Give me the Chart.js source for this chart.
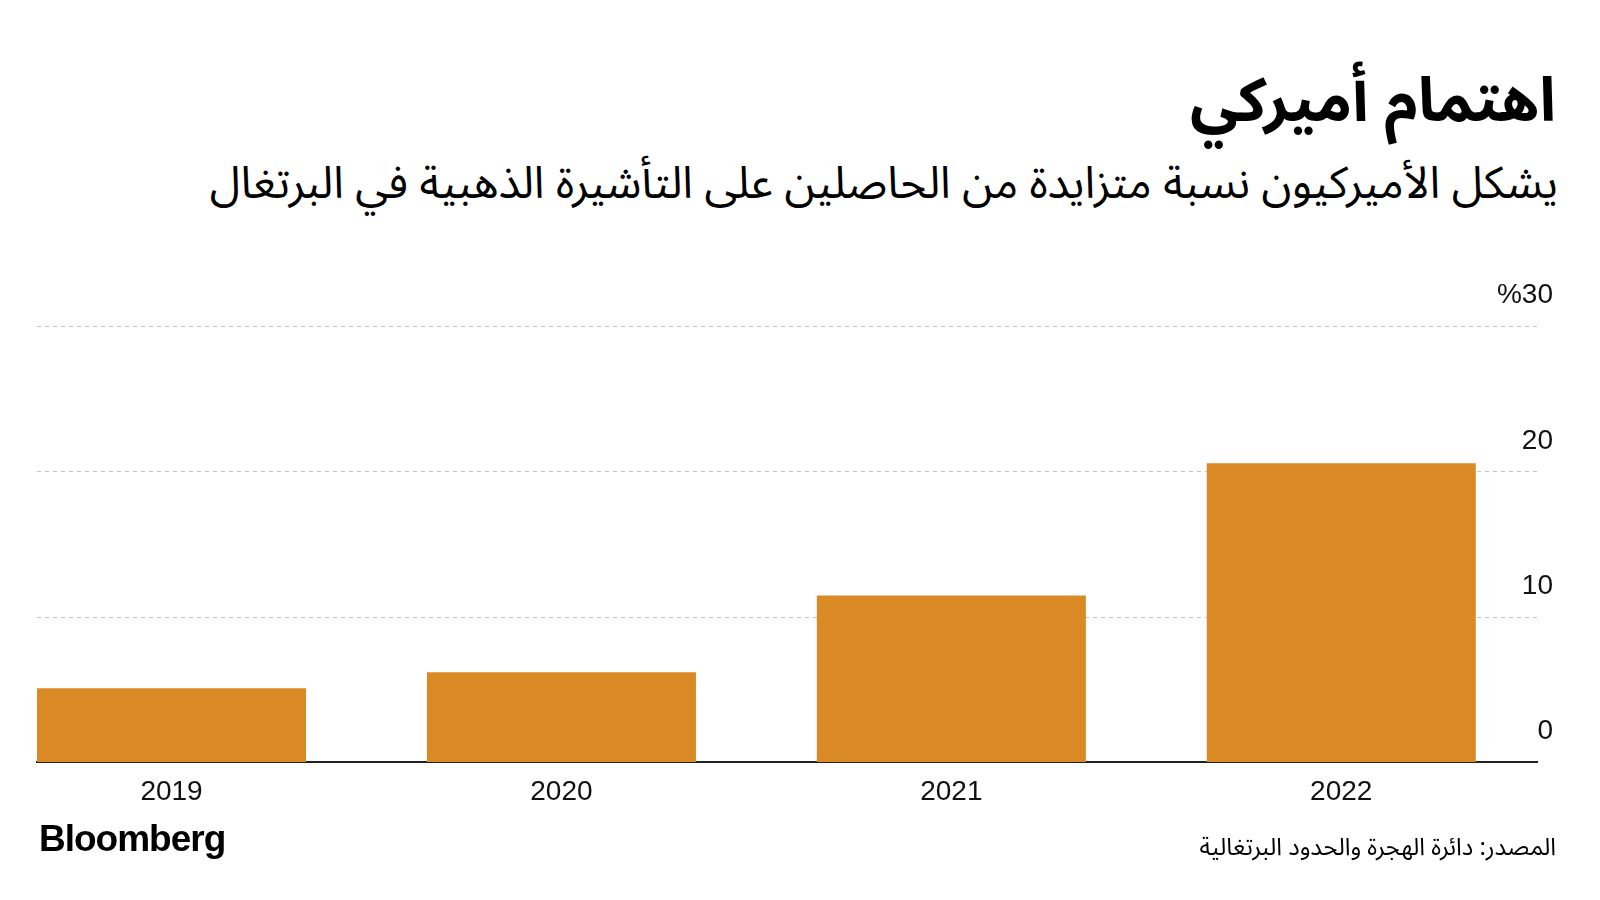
<!DOCTYPE html>
<html lang="ar">
<head>
<meta charset="utf-8">
<script src="https://cdn.jsdelivr.net/npm/chart.js@4"></script>
<style>
  body { margin: 0; width: 1600px; height: 900px; background: #fff; position: relative; overflow: hidden; }
  .ar { position: absolute; direction: rtl; font-family: "Noto Sans Arabic", "DejaVu Sans", sans-serif; color: #000; white-space: nowrap; }
  #titulo { right: 44px; top: 68px; font-size: 61px; line-height: 68px; font-weight: bold; }
  #subtitulo { right: 42px; top: 158px; font-size: 44.5px; line-height: 52px; }
  #fonte { right: 44px; top: 832px; font-size: 24px; line-height: 32px; }
  #marca { position: absolute; left: 39px; top: 818px; font: bold 37px/42px "Liberation Sans", Arial, sans-serif; letter-spacing: -1px; color: #000; }
  #grafico { position: absolute; left: 0; top: 250px; }
</style>
</head>
<body>
<div id="titulo" class="ar">اهتمام أميركي</div>
<div id="subtitulo" class="ar">يشكل الأميركيون نسبة متزايدة من الحاصلين على التأشيرة الذهبية في البرتغال</div>
<canvas id="grafico" width="1600" height="580"></canvas>
<div id="marca">Bloomberg</div>
<div id="fonte" class="ar">المصدر: دائرة الهجرة والحدود البرتغالية</div>

<script>
// Dados
const anos = ['2019', '2020', '2021', '2022'];
const percentuais = [5.1, 6.2, 11.5, 20.6];
const ticksY = [0, 10, 20, 30];

const corBarra = '#DA8A24';
const fonteNumeros = { family: '"Liberation Sans", Arial, sans-serif', size: 28 };

const ctx = document.getElementById('grafico').getContext('2d');

new Chart(ctx, {
  type: 'bar',
  data: {
    datasets: [{
      data: percentuais.map((v, i) => ({ x: i, y: v })),
      backgroundColor: corBarra,
      borderWidth: 0,
      barPercentage: 0.69,
      categoryPercentage: 1,
    }]
  },
  options: {
    responsive: false,
    animation: false,
    layout: { padding: { left: 37, right: 63, top: 76.7, bottom: 8 } },
    plugins: { legend: { display: false }, tooltip: { enabled: false } },
    scales: {
      x: {
        type: 'linear',
        offset: false,
        min: -0.345,
        max: 3.502,
        afterBuildTicks: (s) => { s.ticks = anos.map((_, i) => ({ value: i })); },
        grid: { display: false, drawTicks: false },
        border: { display: true, color: '#222', width: 2 },
        ticks: {
          callback: (v) => anos[v],
          color: '#111',
          padding: 13,
          maxRotation: 0,
          font: fonteNumeros,
        }
      },
      y: {
        position: 'right',
        min: 0,
        max: 30,
        afterBuildTicks: (s) => { s.ticks = ticksY.map(v => ({ value: v })); },
        afterFit: (s) => { s.width = 0; },
        grid: {
          drawTicks: false,
          color: (c) => c.tick && c.tick.value === 0 ? 'rgba(0,0,0,0)' : '#c4c4c4',
          lineWidth: 1,
        },
        border: { display: false, dash: [4, 4] },
        ticks: {
          mirror: true,
          padding: 16,
          labelOffset: -31,
          color: '#111',
          callback: (v) => v === 30 ? '%30' : v,
          font: fonteNumeros,
        }
      }
    }
  }
});
</script>
</body>
</html>
